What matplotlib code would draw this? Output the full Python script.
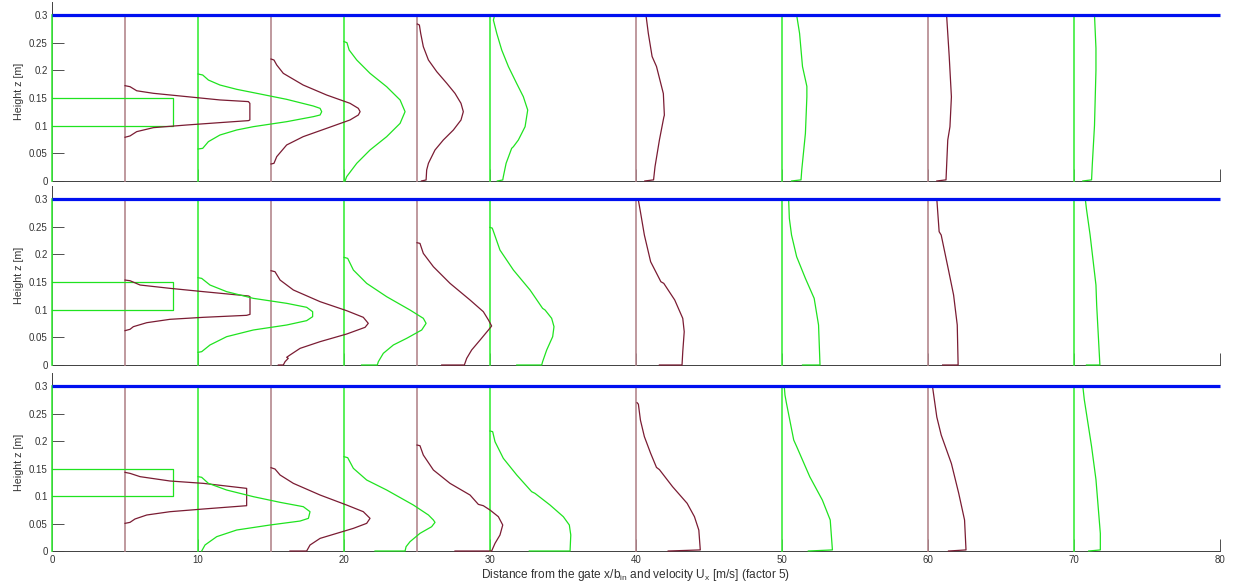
import matplotlib.pyplot as plt
from matplotlib.ticker import FormatStrFormatter

plt.rcParams['font.family'] = ['Liberation Sans', 'DejaVu Sans']

stations = [0, 5, 10, 15, 20, 25, 30, 40, 50, 60, 70]
colour_keys = ['g', 'm', 'g', 'm', 'g', 'm', 'g', 'm', 'g', 'm', 'g']
water_level = 0.3
xticks = [0, 10, 20, 30, 40, 50, 60, 70, 80]
yticks = [0, 0.05, 0.1, 0.15, 0.2, 0.25, 0.3]

# inflow top-hat at the gate (same in all three runs)
hat_z = [0.1, 0.1, 0.15, 0.15]
hat_x = [0, 8.3, 8.3, 0]

# ---- top run: x position = station + 5*U
a05_z = [0.1723, 0.1705, 0.1631, 0.1585, 0.1525, 0.1465, 0.1435, 0.1404, 0.1103, 0.1091, 0.1055, 0.1012, 0.0964, 0.0892, 0.0814, 0.0790]
a05_x = [5.0, 5.34, 5.8, 6.94, 9.22, 11.5, 13.45, 13.55, 13.55, 13.45, 11.5, 9.22, 6.94, 5.8, 5.34, 5.0]
a10_z = [0.1934, 0.1916, 0.1825, 0.1735, 0.1657, 0.1597, 0.1476, 0.1355, 0.1313, 0.1253, 0.1193, 0.1163, 0.1072, 0.0982, 0.0922, 0.0831, 0.0711, 0.059, 0.0578]
a10_x = [10.0, 10.32, 10.71, 11.5, 12.65, 13.79, 16.07, 17.9, 18.36, 18.47, 18.36, 17.9, 16.07, 13.79, 12.65, 11.5, 10.71, 10.32, 10.0]
a15_z = [0.2205, 0.2187, 0.2097, 0.1946, 0.1735, 0.1554, 0.1404, 0.1313, 0.1253, 0.1193, 0.1103, 0.0952, 0.0801, 0.0651, 0.044, 0.0319, 0.0307]
a15_x = [15.0, 15.2, 15.39, 15.84, 17.2, 18.81, 20.41, 20.98, 21.1, 20.98, 20.41, 18.81, 17.2, 16.07, 15.39, 15.2, 15.0]
a20_z = [0.252, 0.25, 0.2368, 0.2187, 0.1946, 0.1704, 0.1464, 0.1253, 0.1042, 0.0801, 0.056, 0.0319, 0.0078, 0.0]
a20_x = [20.0, 20.2, 20.35, 20.87, 21.78, 22.92, 23.84, 24.18, 23.84, 22.92, 21.78, 20.87, 20.18, 20.07]
a25_z = [0.2838, 0.282, 0.2669, 0.2428, 0.2187, 0.1976, 0.1765, 0.1584, 0.1404, 0.1253, 0.1102, 0.0922, 0.0741, 0.056, 0.0379, 0.0319, 0.0199, 0.0018, 0.0]
a25_x = [25.02, 25.16, 25.25, 25.43, 25.78, 26.35, 27.04, 27.6, 28.01, 28.17, 28.01, 27.49, 26.8, 26.23, 25.89, 25.78, 25.66, 25.62, 25.3]
a30_z = [0.2982, 0.2909, 0.2669, 0.2368, 0.2067, 0.1765, 0.1524, 0.1283, 0.0982, 0.0741, 0.062, 0.059, 0.0319, 0.0078, 0.0018, 0.0]
a30_x = [30.3, 30.23, 30.46, 30.8, 31.26, 31.82, 32.28, 32.58, 32.4, 31.94, 31.6, 31.48, 31.1, 30.91, 30.87, 30.5]
a40_z = [0.3, 0.267, 0.225, 0.207, 0.158, 0.119, 0.115, 0.074, 0.026, 0.002, 0.0]
a40_x = [40.68, 40.84, 41.1, 41.4, 41.87, 41.94, 41.9, 41.6, 41.3, 41.2, 40.6]
a50_z = [0.3, 0.267, 0.207, 0.171, 0.152, 0.086, 0.02, 0.002, 0.0]
a50_x = [51.0, 51.2, 51.4, 51.7, 51.7, 51.6, 51.35, 51.3, 50.65]
a60_z = [0.3, 0.225, 0.152, 0.098, 0.074, 0.002, 0.0]
a60_x = [61.27, 61.45, 61.6, 61.5, 61.35, 61.23, 60.6]
a70_z = [0.3, 0.24, 0.2, 0.1, 0.03, 0.002, 0.0]
a70_x = [71.4, 71.5, 71.5, 71.4, 71.25, 71.2, 70.6]

# ---- middle run
b05_z = [0.1536, 0.1524, 0.1446, 0.1386, 0.1326, 0.1248, 0.1235, 0.0916, 0.0898, 0.0862, 0.0826, 0.0765, 0.0693, 0.0645, 0.0621]
b05_x = [5.0, 5.34, 6.03, 8.08, 10.37, 13.45, 13.56, 13.56, 13.33, 10.37, 8.08, 6.49, 5.57, 5.34, 5.0]
b10_z = [0.1578, 0.1566, 0.1446, 0.1326, 0.1205, 0.1115, 0.1043, 0.0964, 0.0874, 0.0802, 0.0723, 0.0633, 0.0512, 0.0362, 0.0241, 0.0229]
b10_x = [10.0, 10.25, 10.82, 11.96, 13.79, 16.07, 17.44, 17.85, 17.85, 17.44, 16.07, 13.79, 11.96, 10.82, 10.25, 10.0]
b15_z = [0.1705, 0.1687, 0.1536, 0.1356, 0.1145, 0.0982, 0.0862, 0.0753, 0.0681, 0.0560, 0.0422, 0.0301, 0.0181, 0.0139, 0.0121, 0.006, 0.0, 0.0]
b15_x = [15.0, 15.27, 15.62, 16.53, 18.36, 20.18, 21.32, 21.66, 21.44, 20.18, 18.36, 16.99, 16.3, 16.07, 16.18, 15.96, 15.84, 15.5]
b20_z = [0.1946, 0.1928, 0.1717, 0.1476, 0.1235, 0.0994, 0.0844, 0.0753, 0.0633, 0.0482, 0.0362, 0.0211, 0.006, 0.0, 0.0]
b20_x = [20.0, 20.25, 20.64, 21.55, 22.92, 24.52, 25.43, 25.62, 25.32, 24.29, 23.38, 22.69, 22.35, 22.28, 21.2]
b25_z = [0.2211, 0.2199, 0.2018, 0.1777, 0.1476, 0.1175, 0.0964, 0.0814, 0.0705, 0.0633, 0.0452, 0.0271, 0.012, 0.0, 0.0]
b25_x = [25.0, 25.2, 25.43, 26.12, 27.26, 28.63, 29.54, 29.89, 30.11, 29.89, 29.32, 28.74, 28.4, 28.24, 26.69]
b30_z = [0.2488, 0.2475, 0.244, 0.2078, 0.1717, 0.1356, 0.1024, 0.0994, 0.0844, 0.0693, 0.0512, 0.0271, 0.006, 0.0, 0.0]
b30_x = [30.0, 30.15, 30.2, 30.68, 31.6, 32.74, 33.6, 33.77, 34.22, 34.38, 34.29, 33.88, 33.6, 33.54, 31.83]
b40_z = [0.3, 0.298, 0.277, 0.235, 0.1867, 0.1506, 0.1476, 0.1175, 0.0843, 0.0602, 0.024, 0.0, 0.0]
b40_x = [40.0, 40.16, 40.3, 40.57, 41.0, 41.7, 41.9, 42.65, 43.2, 43.3, 43.2, 43.15, 41.6]
b50_z = [0.3, 0.265, 0.235, 0.1958, 0.1566, 0.1205, 0.0723, 0.0, 0.0]
b50_x = [50.45, 50.5, 50.65, 51.0, 51.6, 52.2, 52.5, 52.6, 51.4]
b60_z = [0.3, 0.241, 0.235, 0.1717, 0.1265, 0.0723, 0.0, 0.0]
b60_x = [60.6, 60.76, 60.9, 61.4, 61.75, 62.0, 62.06, 61.0]
b70_z = [0.3, 0.282, 0.235, 0.1446, 0.108, 0.0, 0.0]
b70_x = [70.77, 70.85, 71.1, 71.5, 71.55, 71.77, 70.85]

# ---- bottom run
c05_z = [0.143, 0.1412, 0.1352, 0.1273, 0.1230, 0.1139, 0.0824, 0.0764, 0.0715, 0.0655, 0.0582, 0.0521, 0.0503]
c05_x = [5.0, 5.34, 6.03, 8.08, 10.37, 13.33, 13.33, 10.37, 8.08, 6.49, 5.68, 5.34, 5.0]
c10_z = [0.1352, 0.134, 0.1230, 0.1109, 0.0988, 0.0885, 0.0806, 0.0715, 0.0594, 0.0545, 0.0473, 0.0382, 0.0261, 0.011, 0.0]
c10_x = [10.0, 10.25, 10.71, 11.96, 13.79, 15.62, 17.21, 17.67, 17.56, 16.99, 14.93, 12.65, 11.28, 10.48, 10.25]
c15_z = [0.1515, 0.1491, 0.1382, 0.1230, 0.1018, 0.0836, 0.0715, 0.0594, 0.0503, 0.0412, 0.0321, 0.023, 0.0109, 0.0, 0.0]
c15_x = [15.0, 15.27, 15.62, 16.53, 18.36, 20.18, 21.32, 21.78, 21.55, 20.64, 19.5, 18.36, 17.67, 17.44, 16.3]
c20_z = [0.1715, 0.1697, 0.1503, 0.1291, 0.1109, 0.0836, 0.0655, 0.0564, 0.0521, 0.0442, 0.0321, 0.017, 0.0079, 0.0, 0.0]
c20_x = [20.0, 20.25, 20.64, 21.55, 22.92, 24.75, 25.78, 26.12, 26.23, 26.0, 25.2, 24.52, 24.25, 24.18, 22.12]
c25_z = [0.1927, 0.1915, 0.1745, 0.1473, 0.1230, 0.1018, 0.0848, 0.0824, 0.0745, 0.0624, 0.0473, 0.0291, 0.0139, 0.0, 0.0]
c25_x = [25.0, 25.2, 25.43, 26.12, 27.26, 28.63, 29.2, 29.54, 30.0, 30.57, 30.87, 30.68, 30.34, 30.11, 27.6]
c30_z = [0.2182, 0.217, 0.1988, 0.1685, 0.1382, 0.1079, 0.1048, 0.0836, 0.0624, 0.0473, 0.0291, 0.0, 0.0]
c30_x = [30.0, 30.18, 30.34, 30.91, 31.83, 32.85, 33.08, 34.11, 35.02, 35.43, 35.53, 35.48, 32.69]
c40_z = [0.2697, 0.267, 0.238, 0.208, 0.1776, 0.152, 0.148, 0.117, 0.0867, 0.0624, 0.038, 0.002, 0.0]
c40_x = [40.07, 40.16, 40.3, 40.57, 41.0, 41.4, 41.6, 42.5, 43.5, 44.0, 44.3, 44.4, 42.2]
c50_z = [0.3, 0.2836, 0.269, 0.2018, 0.19, 0.135, 0.0927, 0.0564, 0.002, 0.0]
c50_x = [50.15, 50.2, 50.3, 50.8, 51.0, 51.9, 52.76, 53.3, 53.45, 51.8]
c60_z = [0.3, 0.2436, 0.211, 0.159, 0.105, 0.0564, 0.002, 0.0]
c60_x = [60.3, 60.6, 60.9, 61.6, 62.1, 62.5, 62.6, 61.4]
c70_z = [0.3, 0.2755, 0.19, 0.16, 0.13, 0.032, 0.002, 0.0]
c70_x = [70.6, 70.7, 71.2, 71.35, 71.5, 71.8, 71.8, 71.0]

runs = [
    [(hat_z, hat_x), (a05_z, a05_x), (a10_z, a10_x), (a15_z, a15_x), (a20_z, a20_x), (a25_z, a25_x),
     (a30_z, a30_x), (a40_z, a40_x), (a50_z, a50_x), (a60_z, a60_x), (a70_z, a70_x)],
    [(hat_z, hat_x), (b05_z, b05_x), (b10_z, b10_x), (b15_z, b15_x), (b20_z, b20_x), (b25_z, b25_x),
     (b30_z, b30_x), (b40_z, b40_x), (b50_z, b50_x), (b60_z, b60_x), (b70_z, b70_x)],
    [(hat_z, hat_x), (c05_z, c05_x), (c10_z, c10_x), (c15_z, c15_x), (c20_z, c20_x), (c25_z, c25_x),
     (c30_z, c30_x), (c40_z, c40_x), (c50_z, c50_x), (c60_z, c60_x), (c70_z, c70_x)],
]

curve_col = {'g': '#1fe31f', 'm': '#7a1c33'}
base_col = {'g': '#3ced3c', 'm': '#b4878e'}

fig = plt.figure(figsize=(12.33, 5.87), dpi=100)
bottoms = [0.6917, 0.3782, 0.0613]
heights = [0.3049, 0.3049, 0.3032]

for i, run in enumerate(runs):
    ax = fig.add_axes([0.0422, bottoms[i], 0.9473, heights[i]])
    for s, key, (z, x) in zip(stations, colour_keys, run):
        ax.plot([s, s], [0, water_level], color=base_col[key], lw=1.2, zorder=3, clip_on=False)
        ax.plot(x, z, color=curve_col[key], lw=0.9, zorder=4, clip_on=False,
                solid_joinstyle='round')
    ax.plot([0, 80], [water_level, water_level], color='#0010f0', lw=2.3, zorder=5, clip_on=False,
            solid_capstyle='butt')
    ax.set_xlim(0, 80)
    ax.set_ylim(0, 0.3236)
    ax.set_xticks(xticks)
    ax.set_yticks(yticks)
    ax.yaxis.set_major_formatter(FormatStrFormatter('%g'))
    ax.tick_params(direction='in', length=8.4, width=0.6, color='#333333',
                   labelsize=7, labelcolor='#333333', pad=3)
    for side in ['top', 'right']:
        ax.spines[side].set_visible(False)
    for side in ['left', 'bottom']:
        ax.spines[side].set_color('#404040')
        ax.spines[side].set_linewidth(0.7)
    ax.set_ylabel('Height z [m]', fontsize=7.7, color='#333333', labelpad=4)
    if i < 2:
        ax.tick_params(labelbottom=False)
    else:
        ax.set_xlabel('Distance from the gate x/b$_{\\mathregular{in}}$ and velocity U$_{\\mathregular{x}}$ [m/s] (factor 5)',
                      fontsize=8.6, color='#333333', labelpad=1)

fig.savefig('out.png', dpi=100)
